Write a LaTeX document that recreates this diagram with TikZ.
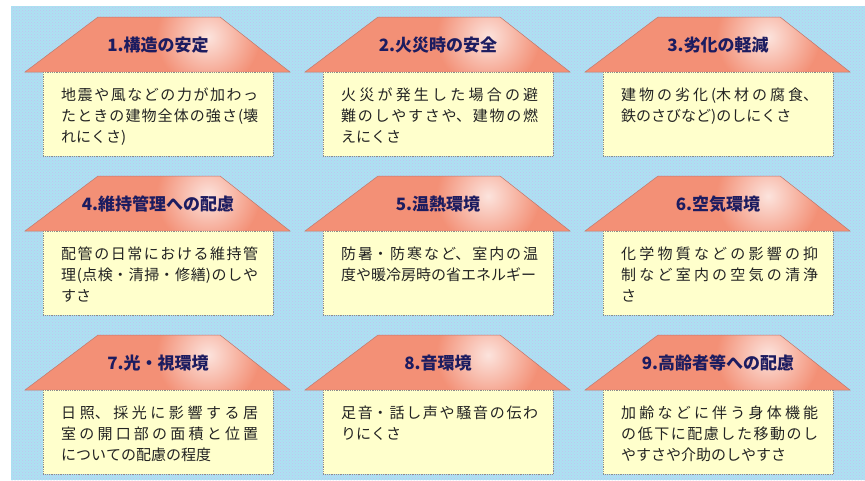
\documentclass[tikz,border=0pt]{standalone}
\usepackage{fontspec}
\setmainfont{Noto Sans CJK JP}
\usetikzlibrary{patterns}
\XeTeXlinebreaklocale "ja"
\XeTeXlinebreakskip=0pt plus 4pt
\definecolor{bgblue}{RGB}{172,226,242}
\definecolor{bgdot}{RGB}{196,190,240}
\definecolor{roofc}{RGB}{243,144,118}
\definecolor{roofedge}{RGB}{190,120,110}
\definecolor{bodyc}{RGB}{255,255,204}
\definecolor{bodyedge}{RGB}{140,140,140}
\definecolor{titlec}{RGB}{28,28,96}
\definecolor{textc}{RGB}{35,35,35}
\tikzset{
  roofline/.style={draw=roofedge, line width=0.5pt},
  bodybox/.style={fill=bodyc, draw=bodyedge, densely dotted, line width=0.8pt, inner sep=0pt, anchor=north west, minimum width=230pt, minimum height=84pt},
  titletext/.style={font=\fontsize{17}{20}\selectfont\bfseries, text=titlec, inner sep=0pt},
  bodytext/.style={font=\fontsize{15}{21}\selectfont, text=textc, inner sep=0pt, text width=197pt, align=justify, anchor=north west},
}
\newcommand\myhouse[6]{%
  \begin{scope}
    \clip (#2-18,#3+55) -- (#2+55,#3) -- (#2+177,#3) -- (#2+247,#3+55) -- cycle;
    \fill[roofc] (#2-18,#3+56) rectangle (#2+247,#3-1);
    \shade[inner color=roofc!25!white, outer color=roofc] (#2+165,#3+20) circle (52pt);
  \end{scope}
  \draw[roofline] (#2-18,#3+55) -- (#2+55,#3) -- (#2+177,#3) -- (#2+247,#3+55) -- cycle;
  \node[bodybox] (body#1) at (#2,#3+55) {};
  \node[titletext] (title#1) at (#2+115,#3+28) {#4};
  \node[bodytext] (text#1) at (#2+18,#3+71) {#5\linebreak #6};
}
\begin{document}
\begin{tikzpicture}[x=1pt,y=-1pt]
\useasboundingbox (0,0) rectangle (865,480);
\fill[bgblue] (11,6) rectangle (865,480);
\fill[pattern=crosshatch dots, pattern color=bgdot] (11,6) rectangle (865,480);
\myhouse{1}{43}{17}{1.構造の安定}{地震や風などの力が加わっ\linebreak たときの建物全体の強さ(壊}{れにくさ)}
\myhouse{2}{323}{17}{2.火災時の安全}{火災が発生した場合の避\linebreak 難のしやすさや、建物の燃}{えにくさ}
\myhouse{3}{603}{17}{3.劣化の軽減}{建物の劣化(木材の腐食、}{鉄のさびなど)のしにくさ}
\myhouse{4}{43}{176}{4.維持管理への配慮}{配管の日常における維持管\linebreak 理(点検・清掃・修繕)のしや}{すさ}
\myhouse{5}{323}{176}{5.温熱環境}{防暑・防寒など、室内の温}{度や暖冷房時の省エネルギー}
\myhouse{6}{603}{176}{6.空気環境}{化学物質などの影響の抑\linebreak 制など室内の空気の清浄}{さ}
\myhouse{7}{43}{335}{7.光・視環境}{日照、採光に影響する居\linebreak 室の開口部の面積と位置}{についての配慮の程度}
\myhouse{8}{323}{335}{8.音環境}{足音・話し声や騒音の伝わ}{りにくさ}
\myhouse{9}{603}{335}{9.高齢者等への配慮}{加齢などに伴う身体機能\linebreak の低下に配慮した移動のし}{やすさや介助のしやすさ}
\end{tikzpicture}
\end{document}
